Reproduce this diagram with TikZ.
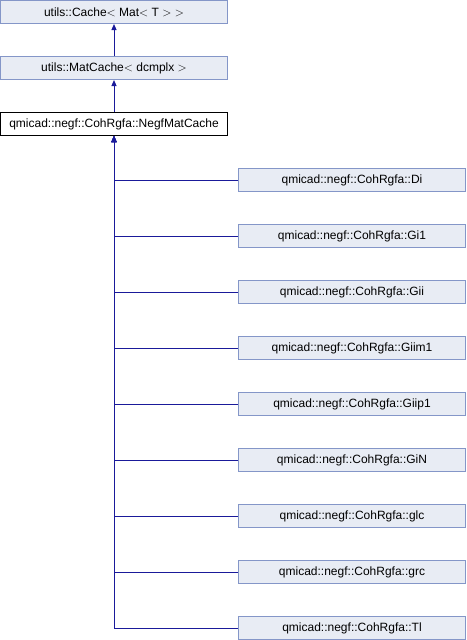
\documentclass[tikz,border=0pt]{standalone}
\usepackage{fontspec}
\setmainfont{Liberation Sans}
\usetikzlibrary{arrows.meta}
\definecolor{boxfill}{HTML}{E8ECF4}
\definecolor{boxdraw}{HTML}{8496C8}
\definecolor{edge}{HTML}{1A1A9A}
\tikzset{
  cls/.style={draw=boxdraw, fill=boxfill, line width=1pt, minimum width=227pt, minimum height=23pt, inner sep=0pt, font=\fontsize{12}{14}\selectfont},
  cur/.style={cls, draw=black, fill=white},
  inh/.style={draw=edge, line width=1pt, -{Triangle[length=6pt,width=5pt]}}
}
\begin{document}
\begin{tikzpicture}[x=1pt,y=-1pt]
\useasboundingbox (0,0) rectangle (466,640);
\node[cls] (cache) at (114,12) {utils::Cache$<$ Mat$<$ T $>$ $>$};
\node[cls] (mat) at (114,68) {utils::MatCache$<$ dcmplx $>$};
\node[cur] (negf) at (114,124) {qmicad::negf::CohRgfa::NegfMatCache};
\node[cls] (di) at (352,180) {qmicad::negf::CohRgfa::Di};
\node[cls] (gi1) at (352,236) {qmicad::negf::CohRgfa::Gi1};
\node[cls] (gii) at (352,292) {qmicad::negf::CohRgfa::Gii};
\node[cls] (giim1) at (352,348) {qmicad::negf::CohRgfa::Giim1};
\node[cls] (giip1) at (352,404) {qmicad::negf::CohRgfa::Giip1};
\node[cls] (gin) at (352,460) {qmicad::negf::CohRgfa::GiN};
\node[cls] (glc) at (352,516) {qmicad::negf::CohRgfa::glc};
\node[cls] (grc) at (352,572) {qmicad::negf::CohRgfa::grc};
\node[cls] (tl) at (352,628) {qmicad::negf::CohRgfa::Tl};
\draw[inh] (mat) -- (cache);
\draw[inh] (negf) -- (mat);
\foreach \c in {di,gi1,gii,giim1,giip1,gin,glc,grc,tl}
  \draw[inh] (\c.west) -| (negf.south);
\end{tikzpicture}
\end{document}
